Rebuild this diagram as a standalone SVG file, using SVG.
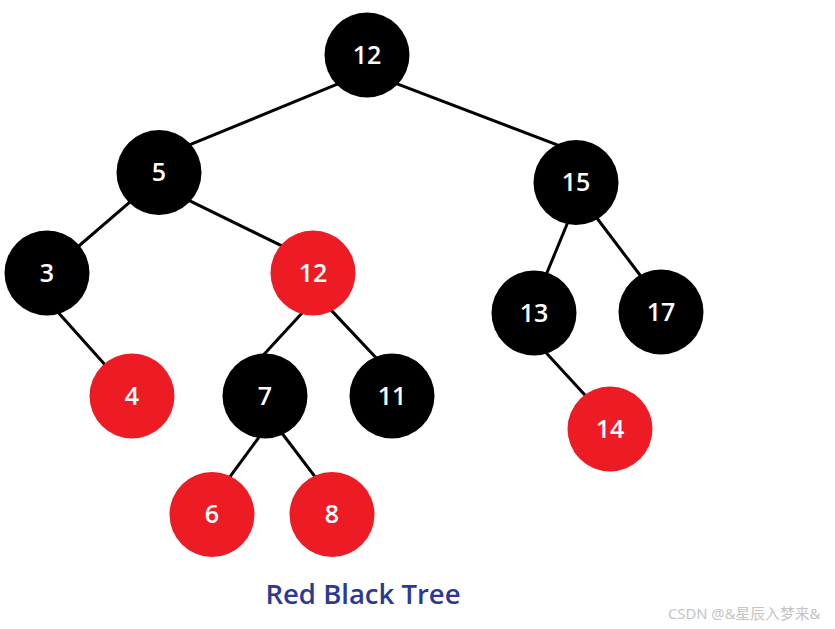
<svg xmlns="http://www.w3.org/2000/svg" width="835" height="629" viewBox="0 0 835 629">
<style>
.edge{stroke:#000;stroke-width:3;fill:none}
.blk{fill:#000}
.red{fill:#ed1c24}
.lbl{fill:#fff;font-family:"Open Sans","Noto Sans",sans-serif;font-weight:600;font-size:25px;text-anchor:middle}
.title{fill:#2b3990;font-family:"Open Sans","Noto Sans",sans-serif;font-weight:600;font-size:27.5px;text-anchor:middle}
.wm{fill:#c4c4c4;font-family:"Noto Sans","Noto Sans CJK SC",sans-serif;font-size:14.8px}
</style>
<rect width="835" height="629" fill="#fff"/>
<g id="connectors">
<line class="edge" x1="177.8" y1="149.7" x2="348.9" y2="79.3"/>
<line class="edge" x1="386" y1="79.7" x2="569" y2="149.3"/>
<line class="edge" x1="135.9" y1="196.8" x2="72.4" y2="251.5"/>
<line class="edge" x1="182.7" y1="197.3" x2="289" y2="249.4"/>
<line class="edge" x1="52" y1="305.5" x2="111" y2="371.5"/>
<line class="edge" x1="308.5" y1="306" x2="256.5" y2="362.4"/>
<line class="edge" x1="324.8" y1="303.4" x2="381.9" y2="364"/>
<line class="edge" x1="264.2" y1="430.2" x2="224" y2="484.8"/>
<line class="edge" x1="277.3" y1="427" x2="321" y2="484.7"/>
<line class="edge" x1="570.5" y1="215.8" x2="542.9" y2="282.5"/>
<line class="edge" x1="592.3" y1="212" x2="646" y2="283"/>
<line class="edge" x1="539.9" y1="346" x2="591.8" y2="402.4"/>
</g>
<g id="n12root"><circle class="blk" cx="367" cy="55" r="42.5"/><text class="lbl" x="367" y="63.5">12</text></g>
<g id="n5"><circle class="blk" cx="159" cy="172.5" r="42.5"/><text class="lbl" x="159" y="181">5</text></g>
<g id="n15"><circle class="blk" cx="576" cy="182.5" r="42.5"/><text class="lbl" x="576" y="191">15</text></g>
<g id="n3"><circle class="blk" cx="47" cy="273" r="42.5"/><text class="lbl" x="47" y="281.5">3</text></g>
<g id="n12red"><circle class="red" cx="313" cy="273" r="42.5"/><text class="lbl" x="313" y="281.5">12</text></g>
<g id="n13"><circle class="blk" cx="534" cy="313" r="42.5"/><text class="lbl" x="534" y="321.5">13</text></g>
<g id="n17"><circle class="blk" cx="661" cy="312" r="42.5"/><text class="lbl" x="661" y="320.5">17</text></g>
<g id="n4"><circle class="red" cx="132" cy="396" r="42.5"/><text class="lbl" x="132" y="404.5">4</text></g>
<g id="n7"><circle class="blk" cx="265" cy="396" r="42.5"/><text class="lbl" x="265" y="404.5">7</text></g>
<g id="n11"><circle class="blk" cx="392" cy="396" r="42.5"/><text class="lbl" x="392" y="404.5">11</text></g>
<g id="n14"><circle class="red" cx="610" cy="429" r="42.5"/><text class="lbl" x="610" y="437.5">14</text></g>
<g id="n6"><circle class="red" cx="212" cy="514.5" r="42.5"/><text class="lbl" x="212" y="523">6</text></g>
<g id="n8"><circle class="red" cx="332" cy="514.5" r="42.5"/><text class="lbl" x="332" y="523">8</text></g>
<text class="title" x="363" y="604">Red Black Tree</text>
<text class="wm" x="668" y="619">CSDN @&amp;星辰入梦来&amp;</text>
</svg>
